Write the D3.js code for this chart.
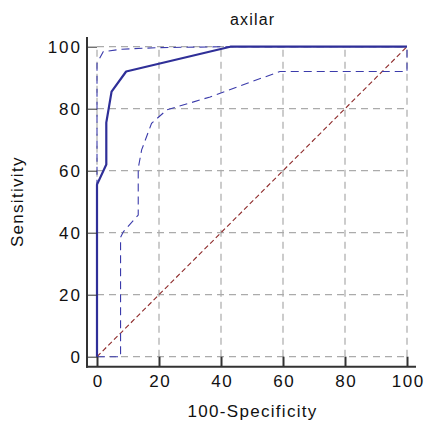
<!DOCTYPE html>
<html>
<head>
<meta charset="utf-8">
<script src="https://cdn.jsdelivr.net/npm/d3@7"></script>
<style>
  body { margin: 0; background: #fff; }
  text { font-family: "Liberation Sans", Arial, sans-serif; fill: #111; }
</style>
</head>
<body>
<div id="chart"></div>
<script>
const WIDTH = 424;
const HEIGHT = 421;

// ROC curve (100-Specificity, Sensitivity)
const rocX = [0, 0, 3, 3, 4.7, 9.4, 43, 100];
const rocY = [0, 55.5, 62, 75.5, 85.5, 92, 100, 100];

// confidence bounds
const upperX = [0, 0, 2, 8, 20, 42, 100];
const upperY = [0, 94.6, 98.4, 99.2, 99.7, 100, 100];
const lowerX = [0, 7.6, 7.6, 8.5, 13.3, 13.3, 14.4, 17.6, 22.5, 36.5, 46, 59, 100, 100];
const lowerY = [0, 0, 38.5, 40.3, 45.7, 60.8, 66.7, 75.3, 79.6, 83.8, 87.3, 92, 92, 100];

const diagX = [0, 100];
const diagY = [0, 100];

const MAJOR_TICKS = [0, 20, 40, 60, 80, 100];
const MINOR_TICKS = d3.range(0, 101, 5);

const PLOT = { left: 97, right: 407, top: 46.7, bottom: 356.7 };
const AXIS_X = 87;      // y axis line position
const AXIS_Y = 366.7;   // x axis line position

const svg = d3.select('#chart').append('svg')
    .attr('width', WIDTH)
    .attr('height', HEIGHT);

const xScale = d3.scaleLinear().domain([0, 100]).range([PLOT.left, PLOT.right]);
const yScale = d3.scaleLinear().domain([0, 100]).range([PLOT.bottom, PLOT.top]);

// grid
const grid = svg.append('g')
    .attr('stroke', '#ababab')
    .attr('stroke-width', 1.2)
    .attr('stroke-dasharray', '7,5');
grid.selectAll('.gx').data(MAJOR_TICKS).join('line')
    .attr('x1', d => xScale(d)).attr('x2', d => xScale(d))
    .attr('y1', yScale(0)).attr('y2', yScale(100));
grid.selectAll('.gy').data(MAJOR_TICKS).join('line')
    .attr('y1', d => yScale(d)).attr('y2', d => yScale(d))
    .attr('x1', xScale(0)).attr('x2', xScale(100));

const line = d3.line().x(d => xScale(d[0])).y(d => yScale(d[1]));
const zip = (xs, ys) => xs.map((x, i) => [x, ys[i]]);

// diagonal reference line
svg.append('path')
    .attr('d', line(zip(diagX, diagY)))
    .attr('fill', 'none')
    .attr('stroke', '#8e2a2a')
    .attr('stroke-width', 1.1)
    .attr('stroke-dasharray', '5,3');

// confidence bounds
[zip(upperX, upperY), zip(lowerX, lowerY)].forEach(pts => {
  svg.append('path')
      .attr('d', line(pts))
      .attr('fill', 'none')
      .attr('stroke', '#3b3bab')
      .attr('stroke-width', 1.1)
      .attr('stroke-dasharray', '8,5');
});

// ROC curve
svg.append('path')
    .attr('d', line(zip(rocX, rocY)))
    .attr('fill', 'none')
    .attr('stroke', '#2f2f98')
    .attr('stroke-width', 2.2)
    .attr('stroke-linejoin', 'round');

// Y AXIS
const yg = svg.append('g').attr('transform', 'translate(' + AXIS_X + ',0)');
yg.call(d3.axisLeft(yScale).tickValues(MINOR_TICKS).tickSizeInner(-6).tickSizeOuter(0).tickFormat(''));
yg.call(d3.axisLeft(yScale).tickValues(MAJOR_TICKS).tickSizeInner(-10).tickSizeOuter(0).tickPadding(5));

// X AXIS
const xg = svg.append('g').attr('transform', 'translate(0,' + AXIS_Y + ')');
xg.call(d3.axisBottom(xScale).tickValues(MINOR_TICKS).tickSizeInner(-6).tickSizeOuter(0).tickFormat(''));
xg.call(d3.axisBottom(xScale).tickValues(MAJOR_TICKS).tickSizeInner(-10).tickSizeOuter(0).tickPadding(8));

[yg, xg].forEach(g => {
  g.selectAll('.domain').remove();
  g.selectAll('line').attr('stroke', '#333');
  g.selectAll('text')
      .style('font-size', '17px')
      .style('letter-spacing', '2px')
      .style('font-family', '"Liberation Sans", Arial, sans-serif')
      .attr('fill', '#111');
});
xg.selectAll('text').style('letter-spacing', '1.5px').attr('dx', '0.7');
yg.selectAll('.tick line').filter(function () { return +d3.select(this).attr('x2') === -10; }).attr('stroke-width', 2);
xg.selectAll('.tick line').filter(function () { return +d3.select(this).attr('y2') === -10; }).attr('stroke-width', 2);

// axis lines
svg.append('line')
    .attr('x1', AXIS_X).attr('x2', AXIS_X)
    .attr('y1', 37).attr('y2', AXIS_Y + 1)
    .attr('stroke', '#333').attr('stroke-width', 2);
svg.append('line')
    .attr('x1', AXIS_X - 1).attr('x2', 416)
    .attr('y1', AXIS_Y).attr('y2', AXIS_Y)
    .attr('stroke', '#333').attr('stroke-width', 2);

// Title
svg.append('text')
    .attr('x', (PLOT.left + PLOT.right) / 2 + 0.6)
    .attr('y', 25)
    .attr('text-anchor', 'middle')
    .style('font-size', '16px')
    .style('letter-spacing', '1.2px')
    .text('axilar');

svg.append('text')
    .attr('x', (PLOT.left + PLOT.right) / 2 + 0.6)
    .attr('y', 417)
    .attr('text-anchor', 'middle')
    .style('font-size', '17px')
    .style('letter-spacing', '1.3px')
    .text('100-Specificity');

svg.append('text')
    .attr('transform', 'translate(23,' + ((PLOT.top + PLOT.bottom) / 2) + ') rotate(-90)')
    .attr('text-anchor', 'middle')
    .style('font-size', '17px')
    .style('letter-spacing', '1.3px')
    .text('Sensitivity');
</script>
</body>
</html>
